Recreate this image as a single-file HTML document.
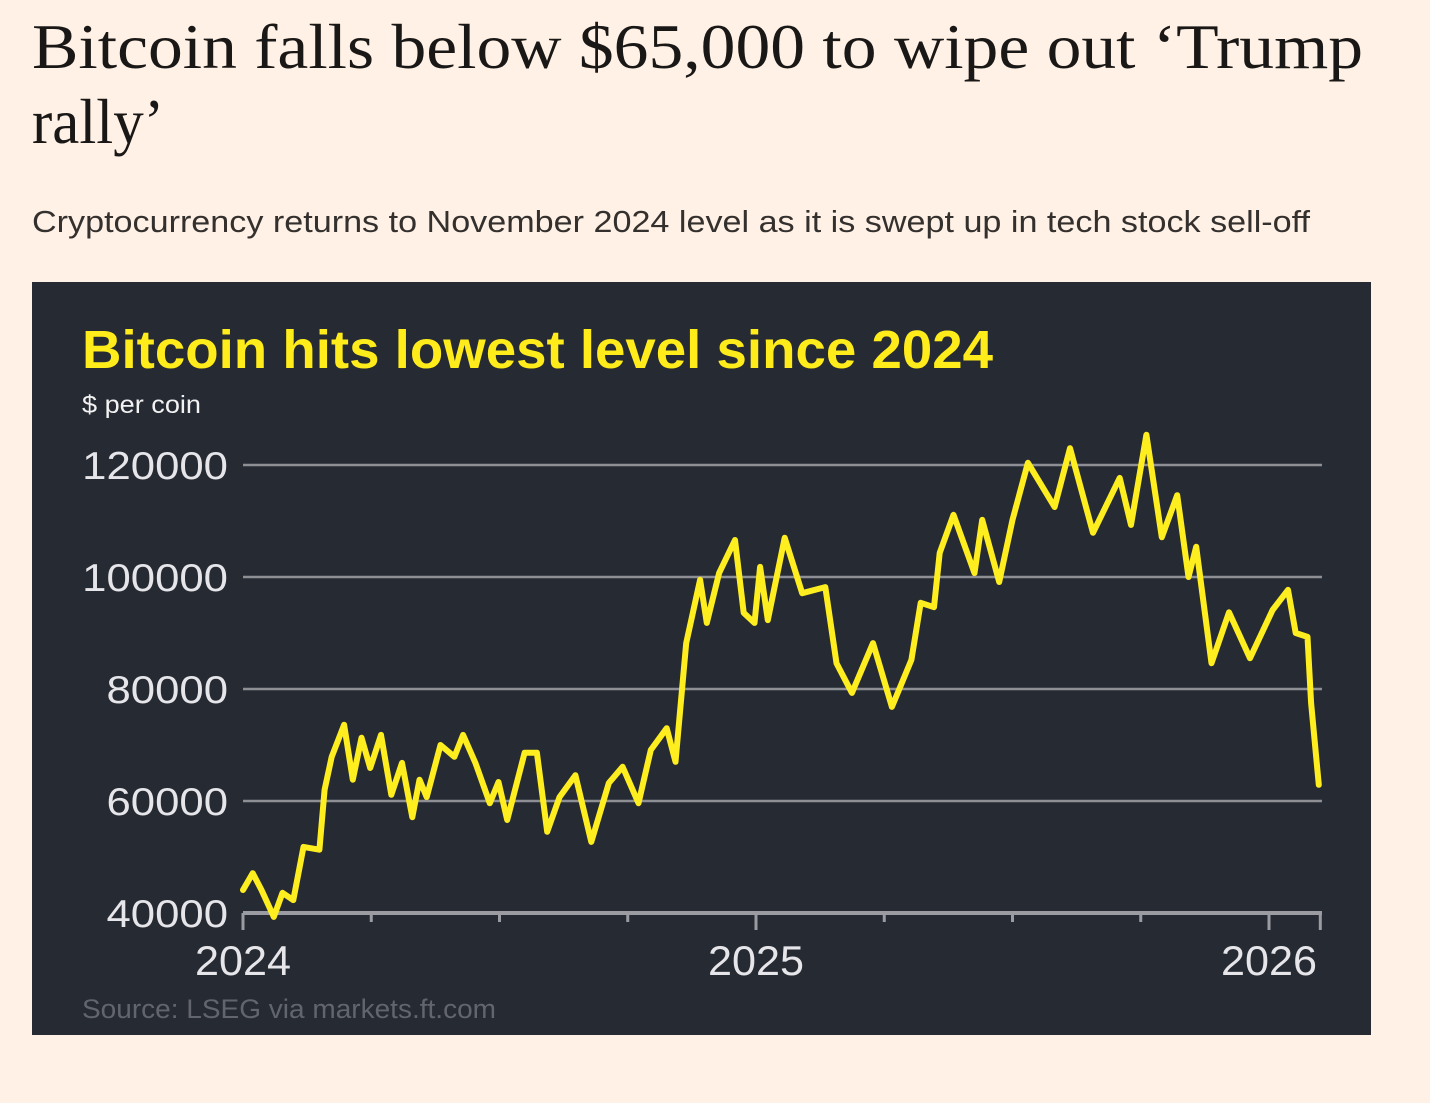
<!DOCTYPE html>
<html><head><meta charset="utf-8"><style>
html,body{margin:0;padding:0;background:#FFF1E5;width:1430px;height:1103px;overflow:hidden}
svg{display:block}
</style></head><body>
<svg id="root" width="1430" height="1103" xmlns="http://www.w3.org/2000/svg">
<rect x="0" y="0" width="1430" height="1103" fill="#FFF1E5"/>
<text x="32" y="68" font-family="Liberation Serif, serif" font-size="64" fill="#1a1817" textLength="1331" lengthAdjust="spacingAndGlyphs">Bitcoin falls below $65,000 to wipe out ‘Trump</text>
<text x="32" y="143" font-family="Liberation Serif, serif" font-size="64" fill="#1a1817" textLength="132" lengthAdjust="spacingAndGlyphs">rally’</text>
<text x="32" y="232" font-family="Liberation Sans, sans-serif" font-size="31" fill="#33302e" textLength="1278" lengthAdjust="spacingAndGlyphs">Cryptocurrency returns to November 2024 level as it is swept up in tech stock sell-off</text>
<g id="chart">
<rect x="32" y="282" width="1339" height="753" fill="#262A33"/>
<text x="82" y="368" font-family="Liberation Sans, sans-serif" font-weight="bold" font-size="54" fill="#FFEC1A" textLength="911" lengthAdjust="spacingAndGlyphs">Bitcoin hits lowest level since 2024</text>
<text x="82" y="413" font-family="Liberation Sans, sans-serif" font-size="25" fill="#f2f2f2" textLength="119" lengthAdjust="spacingAndGlyphs">$ per coin</text>
<text x="82" y="1018" font-family="Liberation Sans, sans-serif" font-size="27" fill="#62656d" textLength="414" lengthAdjust="spacingAndGlyphs">Source: LSEG via markets.ft.com</text>
<g id="grid"></g><g id="axis"></g><g id="series"></g>
</g>
</svg>
<script>
const yTicks=[40000,60000,80000,100000,120000];
const yTickLabels=["40000","60000","80000","100000","120000"];
const xYearTicks=[0,1,2];
const xYearLabels=["2024","2025","2026"];
const xQuarterTicks=[0.25,0.5,0.75,1.25,1.5,1.75,2.1];
// years since 1 Jan 2024
const dates=[0,.019,.036,.060,.077,.098,.118,.149,.159,.173,.197,.214,.231,.248,.269,.289,.310,.330,.344,.358,.385,.412,.429,.453,.481,.498,.515,.549,.573,.593,.617,.648,.679,.713,.740,.771,.795,.826,.843,.864,.891,.904,.928,.959,.976,.997,1.008,1.023,1.056,1.090,1.135,1.157,1.187,1.228,1.265,1.303,1.321,1.347,1.358,1.385,1.426,1.441,1.474,1.500,1.530,1.582,1.612,1.657,1.709,1.731,1.761,1.791,1.821,1.843,1.858,1.888,1.922,1.963,2.007,2.037,2.052,2.075,2.082,2.097];
const prices=[44100,47100,44100,39300,43600,42300,51800,51300,62000,67900,73600,63800,71300,65900,71800,61100,66800,57100,63800,60700,70000,67900,71800,66800,59600,63400,56600,68600,68600,54500,60700,64600,52700,63200,66100,59600,69100,73000,67000,88200,99500,91800,100700,106600,93600,91800,101800,92300,107000,97100,98200,84600,79300,88200,76800,85200,95400,94600,104300,111100,100700,110200,99100,110200,120400,112500,123000,107900,117700,109300,125400,107100,114600,100000,105400,84600,93700,85500,94100,97700,90000,89300,77500,62900];
const X0=243,PXY=513,Y0=913,PXV=448/80000,XR=1322;
const xs=t=>X0+t*PXY, ys=v=>Y0-(v-40000)*PXV;
const NS="http://www.w3.org/2000/svg";
function mk(tag,attrs,parent){const e=document.createElementNS(NS,tag);for(const k in attrs)e.setAttribute(k,attrs[k]);parent.appendChild(e);return e;}
const grid=document.getElementById('grid'),axis=document.getElementById('axis'),series=document.getElementById('series');
yTicks.forEach((v,i)=>{
  if(i>0){const l=mk('line',{x1:X0,x2:XR,y1:ys(v),y2:ys(v),stroke:'#8d8f95','stroke-width':2.5},grid);
  
  }
  const w=yTickLabels[i].length*24.3;
  const t=mk('text',{x:228-w,y:ys(v)+14,'font-family':'Liberation Sans, sans-serif','font-size':39,fill:'#e6e6ea',textLength:w,lengthAdjust:'spacingAndGlyphs'},grid);
  t.textContent=yTickLabels[i];
  
  
});
const base=mk('line',{x1:X0,x2:XR,y1:Y0,y2:Y0,stroke:'#9a9ca2','stroke-width':4},axis);


xYearTicks.forEach((t,i)=>{
  const l=mk('line',{x1:xs(t),x2:xs(t),y1:Y0,y2:Y0+17,stroke:'#9a9ca2','stroke-width':3},axis);
  
  
  const tx=mk('text',{x:xs(t)-48,y:975,'font-family':'Liberation Sans, sans-serif','font-size':42,fill:'#e6e6ea',textLength:96,lengthAdjust:'spacingAndGlyphs'},axis);
  tx.textContent=xYearLabels[i];
  
  
});
xQuarterTicks.forEach(t=>{
  const big=t>2;
  const l=mk('line',{x1:xs(t),x2:xs(t),y1:Y0,y2:Y0+(big?17:9),stroke:'#9a9ca2','stroke-width':3},axis);
  
  
});
const d=dates.map((t,i)=>(i?'L':'M')+xs(t).toFixed(1)+' '+ys(prices[i]).toFixed(1)).join(' ');
const p=mk('path',{d:d,fill:'none',stroke:'#FFEE1F','stroke-width':6,'stroke-linejoin':'round','stroke-linecap':'round'},series);


</script>
</body></html>
